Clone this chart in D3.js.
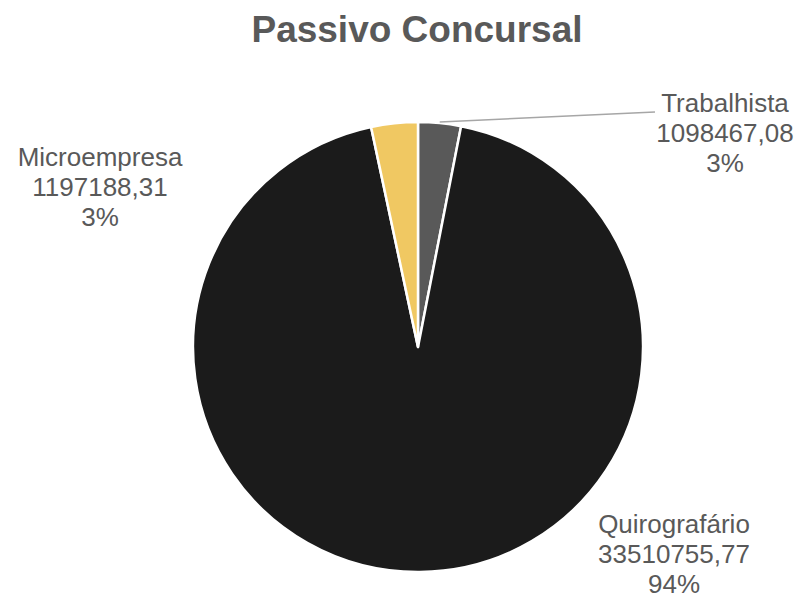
<!DOCTYPE html>
<html>
<head>
<meta charset="utf-8">
<script src="https://cdn.jsdelivr.net/npm/d3@7"></script>
<style>
  html, body { margin: 0; padding: 0; background: #fff; }
  svg { display: block; }
</style>
</head>
<body>
<svg id="chart" width="801" height="599"></svg>
<script>
const categories = ["Trabalhista", "Quirografário", "Microempresa"];
const values = [1098467.08, 33510755.77, 1197188.31];
const valueLabels = ["1098467,08", "33510755,77", "1197188,31"];
const percentLabels = ["3%", "94%", "3%"];
const colors = ["#595959", "#1b1b1b", "#f0c862"];

const W = 801, H = 599;
const cx = 418, cy = 347, R = 225;
// label anchor positions (layout)
const labelPos = [
  { x: 725, y: 112 },
  { x: 674, y: 533 },
  { x: 100, y: 166 }
];
const lineH = 30;

const svg = d3.select("#chart");

svg.append("text")
  .attr("x", 417).attr("y", 42)
  .attr("text-anchor", "middle")
  .attr("font-family", "Liberation Sans, Arial, sans-serif")
  .attr("font-weight", "bold")
  .attr("font-size", 37)
  .attr("fill", "#595959")
  .text("Passivo Concursal");

const data = categories.map((c, i) => ({ cat: c, value: values[i], i }));
const pie = d3.pie().sort(null).value(d => d.value);
const arcs = pie(data);
const arc = d3.arc().innerRadius(0).outerRadius(R);

const g = svg.append("g").attr("transform", `translate(${cx},${cy})`);
g.selectAll("path").data(arcs).enter().append("path")
  .attr("d", arc)
  .attr("fill", d => colors[d.data.i])
  .attr("stroke", "#fff")
  .attr("stroke-width", 2.5)
  .attr("stroke-linejoin", "round");

// leader line for Trabalhista
const a0 = arcs[0];
const mid = (a0.startAngle + a0.endAngle) / 2;
const sx = cx + Math.sin(mid) * (R + 1), sy = cy - Math.cos(mid) * (R + 1);
svg.append("line")
  .attr("x1", sx).attr("y1", sy)
  .attr("x2", labelPos[0].x - 70).attr("y2", labelPos[0].y)
  .attr("stroke", "#a6a6a6").attr("stroke-width", 1.5);

arcs.forEach((d, k) => {
  const i = d.data.i;
  const p = labelPos[i];
  const t = svg.append("text")
    .attr("text-anchor", "middle")
    .attr("font-family", "Liberation Sans, Arial, sans-serif")
    .attr("font-size", 26)
    .attr("fill", "#595959");
  [categories[i], valueLabels[i], percentLabels[i]].forEach((s, j) => {
    t.append("tspan").attr("x", p.x).attr("y", p.y + j * lineH).text(s);
  });
});
</script>
</body>
</html>
